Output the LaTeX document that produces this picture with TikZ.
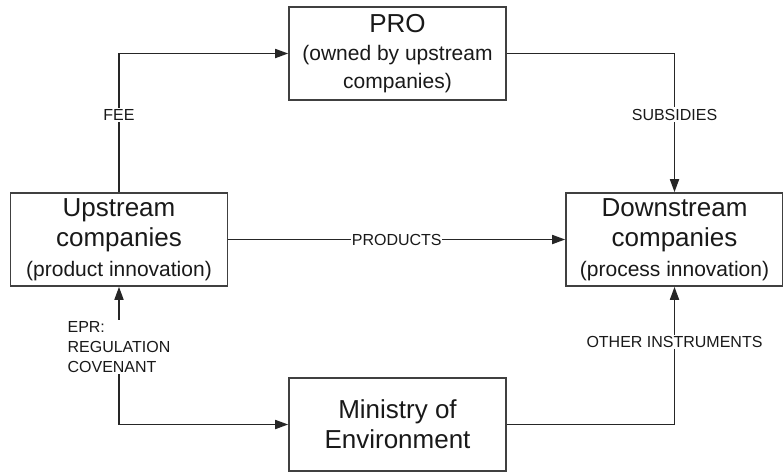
\documentclass[tikz,border=0pt]{standalone}
\usepackage{fontspec}
\setmainfont{Liberation Sans}
\usetikzlibrary{arrows.meta}
\newcommand{\bigtxt}{\fontsize{26}{30}\selectfont}
\newcommand{\smalltxt}{\fontsize{21}{30}\selectfont}
\newcommand{\lbltxt}{\fontsize{16}{20}\selectfont}
\tikzset{
  actor/.style={draw=black!75, line width=1.6pt, text=black!90, minimum width=217pt,
    minimum height=93pt, align=center, inner sep=0pt, font=\bigtxt},
  flow/.style={draw=black!85, line width=1.7pt, -{Triangle[length=13pt,width=9pt]}},
  lbl/.style={fill=white, text=black!90, font=\lbltxt, inner sep=1.5pt}
}
\begin{document}
\begin{tikzpicture}[x=1pt,y=-1pt]
        \useasboundingbox (0,0) rectangle (783,472);
        \node[actor, font={\fontsize{26}{28}\selectfont}] (pro) at (397.5,53.5) {PRO\\ \smalltxt (owned by upstream\\ \smalltxt companies)};%top
        \node[actor] (up) at (119,239.5) {Upstream\\ companies\\ \smalltxt (product innovation)};%left
        \node[actor] (down) at (674.5,239.5) {Downstream\\ companies\\ \smalltxt (process innovation)};%right
        \node[actor] (min) at (397.5,424.5) {Ministry of\\ Environment};%bottom
        \draw[flow] (up.north) |- node[lbl, pos=0.28] {FEE} (pro.west);
        \draw[flow] (pro.east) -| node[lbl, pos=0.72] {SUBSIDIES} (down.north);
        \draw[flow] (up.east) -- node[lbl, inner sep=0.5pt] {PRODUCTS} (down.west);
        \draw[flow, {Triangle[length=13pt,width=9pt]}-{Triangle[length=13pt,width=9pt]}] (min.west) -| node[lbl, pos=0.78, align=left] {EPR:\\ REGULATION\\ COVENANT} (up.south);
        \draw[flow] (min.east) -| node[lbl, pos=0.8] {OTHER INSTRUMENTS} (down.south);
\end{tikzpicture}
\end{document}
